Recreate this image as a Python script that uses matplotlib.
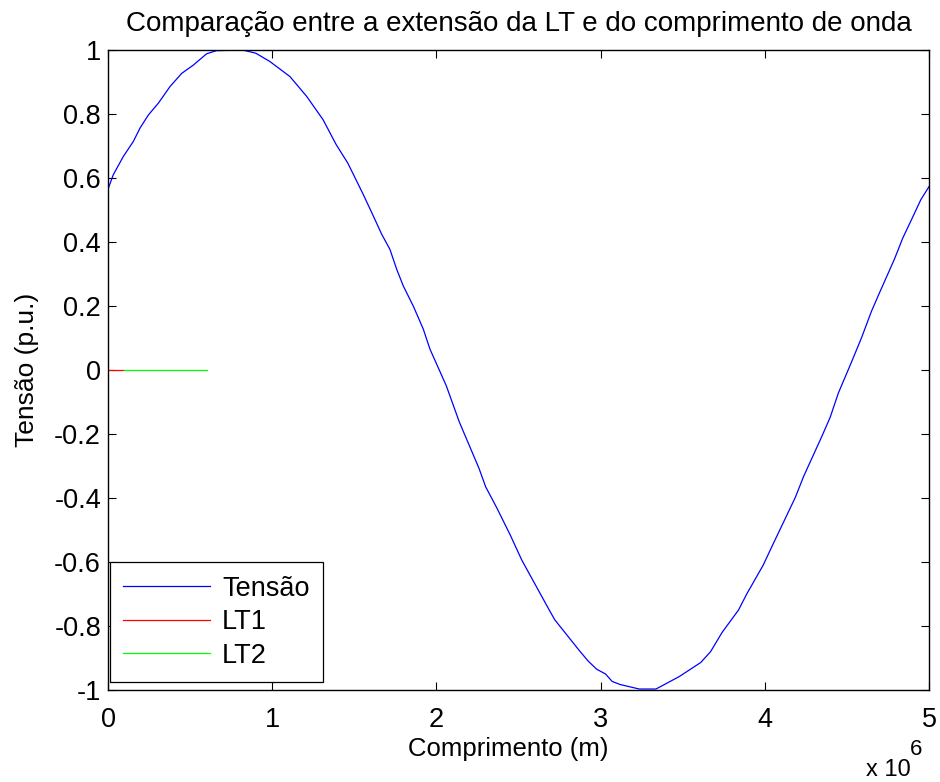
import matplotlib
matplotlib.use('Agg')
import matplotlib.pyplot as plt
from matplotlib.ticker import FuncFormatter

plt.rcParams['font.family'] = ['Liberation Sans', 'DejaVu Sans']
plt.rcParams['axes.unicode_minus'] = False

# Tensao curve, values (x in units of 1e6 m)
x_tensao = [0.0, 0.032, 0.093, 0.154, 0.195, 0.246, 0.307, 0.378, 0.449, 0.52,
            0.60, 0.66, 0.82, 0.90, 0.986, 1.108, 1.21, 1.31, 1.39, 1.46,
            1.51, 1.555, 1.616, 1.667, 1.717, 1.758, 1.798, 1.859, 1.92, 1.961,
            2.06, 2.14, 2.26, 2.30, 2.37, 2.45, 2.52, 2.67, 2.72, 2.874,
            2.925, 2.976, 3.03, 3.07, 3.12, 3.236, 3.337, 3.479, 3.61, 3.67,
            3.74, 3.84, 3.89, 3.99, 4.055, 4.186, 4.236, 4.347, 4.398, 4.448,
            4.529, 4.59, 4.65, 4.70, 4.79, 4.84, 4.90, 4.95, 5.0]
y_tensao = [0.565, 0.61, 0.667, 0.714, 0.756, 0.797, 0.834, 0.886, 0.927, 0.953,
            0.988, 0.998, 1.0, 0.99, 0.964, 0.917, 0.855, 0.782, 0.704, 0.647,
            0.595, 0.548, 0.481, 0.424, 0.377, 0.315, 0.263, 0.2, 0.128, 0.065,
            -0.049, -0.163, -0.308, -0.365, -0.433, -0.516, -0.594, -0.734, -0.78, -0.879,
            -0.91, -0.935, -0.95, -0.973, -0.983, -0.997, -0.997, -0.958, -0.914, -0.88,
            -0.82, -0.75, -0.70, -0.61, -0.539, -0.398, -0.333, -0.208, -0.148, -0.072,
            0.026, 0.102, 0.184, 0.243, 0.347, 0.412, 0.477, 0.532, 0.573]

x_lt1 = [0.0, 0.1]
y_lt1 = [0.0, 0.0]
x_lt2 = [0.1, 0.6]
y_lt2 = [0.0, 0.0]

scale = 1e6
fs = 19.5

fig = plt.figure(figsize=(9.4, 7.82), dpi=100)
ax = fig.add_axes([108/940, 92/782, 821/940, 640/782])

ax.plot([v*scale for v in x_tensao], y_tensao, color='#0000ff', lw=0.9, label='Tensão')
ax.plot([v*scale for v in x_lt1], y_lt1, color='#ff0000', lw=0.9, label='LT1')
ax.plot([v*scale for v in x_lt2], y_lt2, color='#00ff00', lw=0.9, label='LT2')

ax.set_xlim(0, 5e6)
ax.set_ylim(-1, 1)
ax.set_xticks([i*scale for i in range(6)])
ax.xaxis.set_major_formatter(FuncFormatter(lambda v, p: '%g' % (v/scale)))
ax.set_yticks([-1, -0.8, -0.6, -0.4, -0.2, 0, 0.2, 0.4, 0.6, 0.8, 1])
ax.yaxis.set_major_formatter(FuncFormatter(lambda v, p: '%g' % round(v, 1)))
ax.tick_params(direction='in', length=6, width=0.8, top=True, right=True,
               labelsize=fs)
ax.tick_params(axis='x', pad=12)
ax.tick_params(axis='y', pad=5)
for s in ax.spines.values():
    s.set_linewidth(1.0)

ax.set_title('Comparação entre a extensão da LT e do comprimento de onda',
             fontsize=20, pad=14)
ax.set_xlabel('Comprimento (m)', fontsize=18.5)
ax.xaxis.set_label_coords(0.487, -0.073)
ax.set_ylabel('Tensão (p.u.)', fontsize=19, labelpad=11)

fig.text(866/940, 1 - 776/782, 'x 10', fontsize=17, ha='left', va='baseline')
fig.text(910/940, 1 - 755/782, '6', fontsize=16, ha='left', va='baseline')

leg = ax.legend(loc='lower left', bbox_to_anchor=(0.002, 0.012), fontsize=fs,
                fancybox=False, edgecolor='black', framealpha=1,
                handlelength=3.2, handletextpad=0.45, borderpad=0.5,
                labelspacing=0.28, borderaxespad=0)
leg.get_frame().set_linewidth(0.9)

fig.savefig('out.png', dpi=100)
